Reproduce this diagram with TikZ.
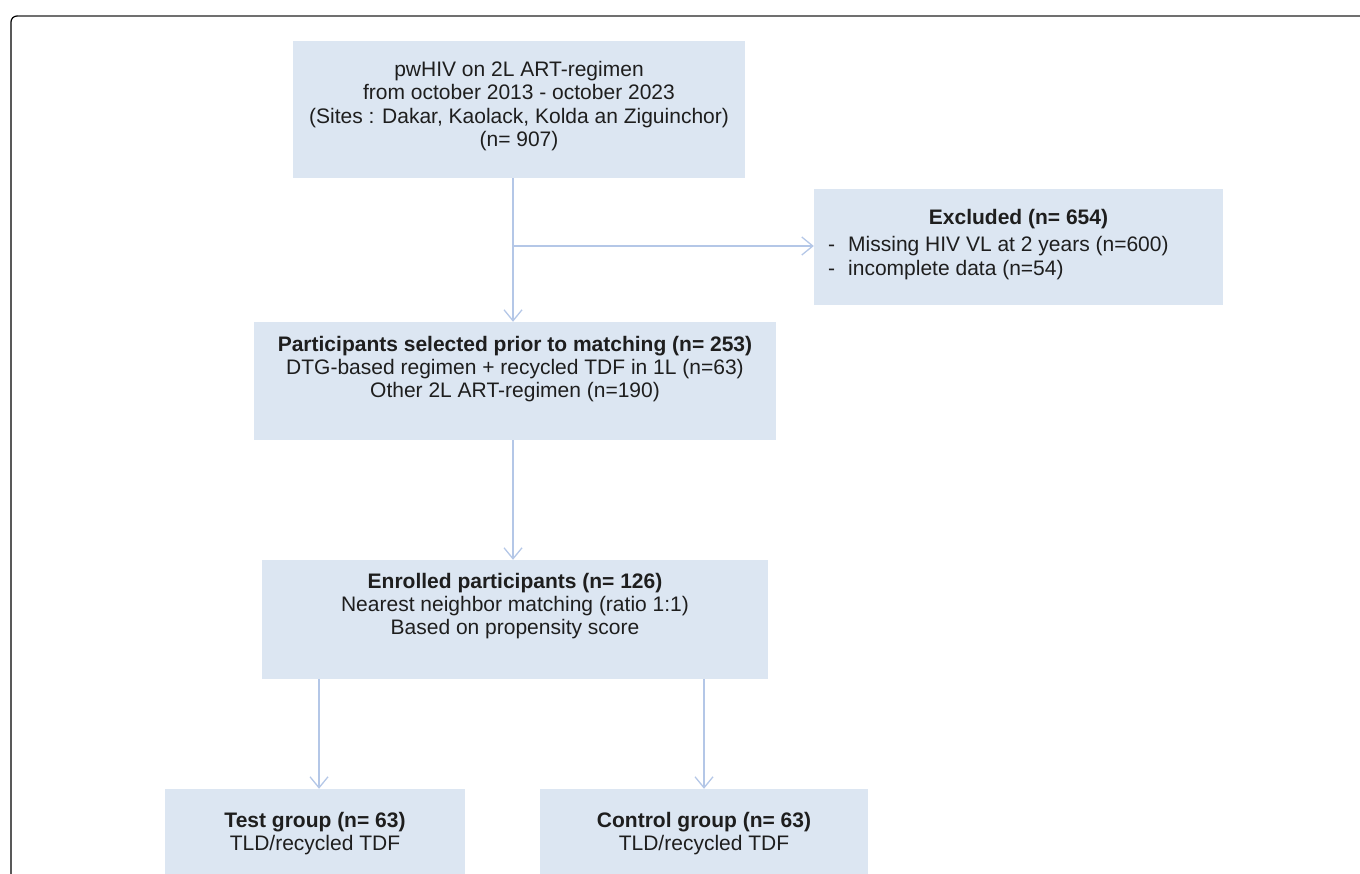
\documentclass[tikz,border=0pt]{standalone}
\usepackage{fontspec}
\setmainfont{Liberation Sans}
\usetikzlibrary{arrows.meta}
\definecolor{boxfill}{HTML}{DCE6F2}
\definecolor{arrowc}{HTML}{B4C7E7}
\definecolor{txtc}{HTML}{1E1E1E}
\definecolor{framegray}{HTML}{707070}
\begin{document}
\begin{tikzpicture}[x=1pt,y=-1pt,
  box/.style={fill=boxfill, draw=none, inner sep=0pt},
  lbl/.style={text=txtc, font=\fontsize{21}{23.3}\selectfont, align=center, inner sep=0pt},
  lst/.style={text=txtc, font=\fontsize{21}{24}\selectfont, align=left, inner sep=0pt, anchor=west},
  arr/.style={draw=arrowc, line width=1.3pt, -{Straight Barb[length=11pt,width=18pt,line width=1.3pt]}},
  ln/.style={draw=arrowc, line width=1.3pt}]
\useasboundingbox (0,0) rectangle (1360,874);
\clip (0,0) rectangle (1360,874);
% frame
\draw[black, line width=1.2pt, rounded corners=6pt] (11,890) -- (11,16) -- (24,16);
\draw[framegray, line width=2pt] (18,16) -- (1370,16);
% boxes
\node[box, minimum width=452pt, minimum height=137pt] (top) at (519,109.5) {};
\node[box, minimum width=409pt, minimum height=116pt] (excl) at (1018.5,247) {};
\node[box, minimum width=522pt, minimum height=118pt] (part) at (515,381) {};
\node[box, minimum width=506pt, minimum height=119pt] (enr) at (515,619.5) {};
\node[box, minimum width=300pt, minimum height=90pt] (test) at (315,834) {};
\node[box, minimum width=328pt, minimum height=90pt] (ctrl) at (704,834) {};
% texts
\node[lbl] (toptxt) at (519,106) {pwHIV on 2L ART-regimen\\from october 2013 - october 2023\\(Sites : Dakar, Kaolack, Kolda an Ziguinchor)\\(n= 907)};
\node[lbl, font=\fontsize{21}{23.3}\selectfont\bfseries] (excltitle) at (1018.5,219) {Excluded (n= 654)};
\node[lst] (excllist) at (828,258) {\makebox[20pt][l]{-}Missing HIV VL at 2 years (n=600)\\\makebox[20pt][l]{-}incomplete data (n=54)};
\node[lbl] (parttxt) at (515,369) {\textbf{Participants selected prior to matching (n= 253)}\\DTG-based regimen + recycled TDF in 1L (n=63)\\Other 2L ART-regimen (n=190)};
\node[lbl] (enrtxt) at (515,606) {\textbf{Enrolled participants (n= 126)}\\Nearest neighbor matching (ratio 1:1)\\Based on propensity score};
\node[lbl] (testtxt) at (315,833.5) {\textbf{Test group (n= 63)}\\TLD/recycled TDF};
\node[lbl] (ctrltxt) at (704,833.5) {\textbf{Control group (n= 63)}\\TLD/recycled TDF};
% connectors
\coordinate (branch) at (513,246);
\coordinate (tcol) at (319,700);
\draw[arr] (top.south -| branch) -- (part.north -| branch);
\draw[arr] (branch) -- (excl.west |- branch);
\draw[arr] (part.south -| branch) -- (enr.north -| branch);
\draw[arr] (enr.south -| tcol) -- (test.north -| tcol);
\draw[arr] (enr.south -| ctrl.north) -- (ctrl.north);
\end{tikzpicture}
\end{document}
